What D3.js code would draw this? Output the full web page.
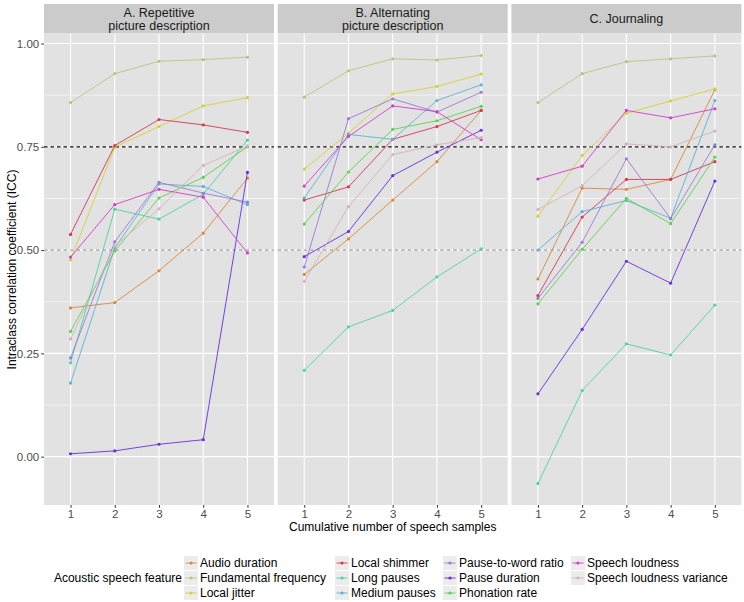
<!DOCTYPE html>
<html>
<head>
<meta charset="utf-8">
<script src="https://cdn.jsdelivr.net/npm/d3@7"></script>
<style>
  body { margin: 0; background: #fff; }
  svg { font-family: "Liberation Sans", Arial, sans-serif; }
</style>
</head>
<body>
<svg id="chart" width="744" height="602"></svg>
<script>
// cumulative number of speech samples
let samples = [1, 2, 3, 4, 5];

let panelTitles = [
    ["A. Repetitive", "picture description"],
    ["B. Alternating", "picture description"],
    ["C. Journaling"]
];

let features = [
    "Audio duration", "Fundamental frequency", "Local jitter",
    "Local shimmer", "Long pauses", "Medium pauses",
    "Pause-to-word ratio", "Pause duration", "Phonation rate",
    "Speech loudness", "Speech loudness variance"
];

let featureColors = [
    "#d8883e", "#b3c67e", "#d4d232",
    "#d23a55", "#48d5a3", "#5cb3d8",
    "#9a7bd8", "#6a2ee0", "#5ad44c",
    "#d63bc8", "#d4b2bc"
];

// ICC per feature (same order as features), one value per sample count
let iccRepetitive = [
    [0.360, 0.373, 0.450, 0.541, 0.674],
    [0.857, 0.927, 0.957, 0.961, 0.967],
    [0.476, 0.749, 0.799, 0.849, 0.869],
    [0.538, 0.753, 0.816, 0.803, 0.785],
    [0.227, 0.599, 0.575, 0.635, 0.766],
    [0.178, 0.505, 0.660, 0.654, 0.610],
    [0.239, 0.520, 0.664, 0.638, 0.616],
    [0.007, 0.014, 0.030, 0.041, 0.688],
    [0.303, 0.498, 0.626, 0.676, 0.750],
    [0.483, 0.610, 0.647, 0.628, 0.493],
    [0.285, 0.510, 0.600, 0.705, 0.752]
];

let iccAlternating = [
    [0.441, 0.527, 0.621, 0.714, 0.838],
    [0.870, 0.934, 0.963, 0.960, 0.971],
    [0.696, 0.783, 0.878, 0.896, 0.926],
    [0.621, 0.653, 0.768, 0.799, 0.838],
    [0.209, 0.314, 0.354, 0.435, 0.503],
    [0.626, 0.780, 0.768, 0.862, 0.900],
    [0.459, 0.818, 0.866, 0.834, 0.882],
    [0.484, 0.545, 0.680, 0.737, 0.790],
    [0.563, 0.689, 0.792, 0.813, 0.848],
    [0.655, 0.775, 0.849, 0.835, 0.767],
    [0.424, 0.605, 0.731, 0.755, 0.772]
];

let iccJournaling = [
    [0.430, 0.650, 0.647, 0.671, 0.888],
    [0.857, 0.927, 0.956, 0.963, 0.970],
    [0.582, 0.729, 0.831, 0.861, 0.890],
    [0.390, 0.580, 0.671, 0.671, 0.714],
    [-0.065, 0.160, 0.273, 0.246, 0.367],
    [0.500, 0.593, 0.620, 0.577, 0.862],
    [0.383, 0.519, 0.721, 0.576, 0.755],
    [0.152, 0.308, 0.473, 0.420, 0.667],
    [0.370, 0.502, 0.625, 0.564, 0.725],
    [0.672, 0.703, 0.838, 0.820, 0.842],
    [0.598, 0.656, 0.757, 0.750, 0.788]
];

let panelData = [iccRepetitive, iccAlternating, iccJournaling];
let yTicks = [0, 0.25, 0.5, 0.75, 1];
let yMinor = [0.125, 0.375, 0.625, 0.875];

let svg = d3.select("#chart");

let panelTop = 34, panelBottom = 505;
let panelWidth = 230, panelGap = 3.7, panelLeft = 44;
let stripTop = 4;

let y = d3.scaleLinear()
    .domain([-0.117, 1.023])
    .range([panelBottom, panelTop]);

let color = d3.scaleOrdinal().domain(features).range(featureColors);

panelData.forEach(function (rows, p) {
    let left = panelLeft + p * (panelWidth + panelGap);
    let x = d3.scalePoint()
        .domain(samples)
        .range([left, left + panelWidth])
        .padding(0.6);

    // strip
    svg.append("rect")
        .attr("x", left).attr("y", stripTop)
        .attr("width", panelWidth).attr("height", panelTop - stripTop - 0.5)
        .style("fill", "#cbcbcb");
    let lines = panelTitles[p];
    let stripMid = (stripTop + panelTop) / 2;
    lines.forEach(function (t, i) {
        svg.append("text")
            .attr("x", left + panelWidth / 2)
            .attr("y", stripMid + (i - (lines.length - 1) / 2) * 13.5)
            .attr("dy", "0.35em")
            .attr("text-anchor", "middle")
            .style("font-size", "12.5px")
            .style("fill", "#1a1a1a")
            .text(t);
    });

    // panel background
    svg.append("rect")
        .attr("x", left).attr("y", panelTop)
        .attr("width", panelWidth).attr("height", panelBottom - panelTop)
        .style("fill", "#e2e2e2");

    let g = svg.append("g");
    g.selectAll("line.minor").data(yMinor).enter().append("line")
        .attr("x1", left).attr("x2", left + panelWidth)
        .attr("y1", d => y(d)).attr("y2", d => y(d))
        .style("stroke", "#fff").style("stroke-width", 0.55);
    g.selectAll("line.major").data(yTicks).enter().append("line")
        .attr("x1", left).attr("x2", left + panelWidth)
        .attr("y1", d => y(d)).attr("y2", d => y(d))
        .style("stroke", "#fff").style("stroke-width", 1.1);
    g.selectAll("line.vmajor").data(samples).enter().append("line")
        .attr("x1", d => x(d)).attr("x2", d => x(d))
        .attr("y1", panelTop).attr("y2", panelBottom)
        .style("stroke", "#fff").style("stroke-width", 1.1);

    // reference lines
    g.append("line")
        .attr("x1", left).attr("x2", left + panelWidth)
        .attr("y1", y(0.5)).attr("y2", y(0.5))
        .style("stroke", "#7a7a7a").style("stroke-width", 0.9)
        .style("stroke-dasharray", "3.5,3");
    g.append("line")
        .attr("x1", left).attr("x2", left + panelWidth)
        .attr("y1", y(0.75)).attr("y2", y(0.75))
        .style("stroke", "#111").style("stroke-width", 1.3)
        .style("stroke-dasharray", "3.5,3");

    let line = d3.line()
        .x((d, i) => x(samples[i]))
        .y(d => y(d));

    rows.forEach(function (vals, f) {
        g.append("path")
            .datum(vals)
            .attr("d", line)
            .style("fill", "none")
            .style("stroke", color(features[f]))
            .style("stroke-width", 0.9);
        g.selectAll(null).data(vals).enter().append("circle")
            .attr("cx", (d, i) => x(samples[i]))
            .attr("cy", d => y(d))
            .attr("r", 1.6)
            .style("fill", color(features[f]));
    });

    // x axis
    let xAxis = d3.axisBottom(x).tickSize(2.75).tickPadding(2);
    let ax = svg.append("g")
        .attr("transform", "translate(0," + panelBottom + ")")
        .call(xAxis);
    ax.select(".domain").remove();
    ax.selectAll(".tick line").style("stroke", "#333");
    ax.selectAll(".tick text")
        .style("font-size", "11.5px").style("fill", "#4d4d4d")
        .style("font-family", "Liberation Sans, Arial, sans-serif");
});

// y axis on first panel
let yAxis = d3.axisLeft(y).tickValues(yTicks).tickFormat(d3.format(".2f"))
    .tickSize(2.75).tickPadding(2);
let ay = svg.append("g")
    .attr("transform", "translate(" + panelLeft + ",0)")
    .call(yAxis);
ay.select(".domain").remove();
ay.selectAll(".tick line").style("stroke", "#333");
ay.selectAll(".tick text")
    .style("font-size", "11.5px").style("fill", "#4d4d4d")
    .style("font-family", "Liberation Sans, Arial, sans-serif");

// axis titles
svg.append("text")
    .attr("transform", "translate(12," + ((panelTop + panelBottom) / 2) + ") rotate(-90)")
    .attr("text-anchor", "middle")
    .attr("dy", "0.35em")
    .style("font-size", "12px")
    .text("Intraclass correlation coefficient (ICC)");

svg.append("text")
    .attr("x", (panelLeft + panelLeft + 3 * panelWidth + 2 * panelGap) / 2)
    .attr("y", 527)
    .attr("dy", "0.35em")
    .attr("text-anchor", "middle")
    .style("font-size", "12px")
    .text("Cumulative number of speech samples");

// legend
let legendCols = [191, 342, 450, 578];
let legendRows = [563, 578, 593];
svg.append("text")
    .attr("x", 182).attr("y", legendRows[1])
    .attr("dy", "0.35em")
    .attr("text-anchor", "end")
    .style("font-size", "12px")
    .text("Acoustic speech feature");

features.forEach(function (name, i) {
    let cx = legendCols[Math.floor(i / 3)];
    let cy = legendRows[i % 3];
    let k = svg.append("g");
    k.append("rect")
        .attr("x", cx - 7).attr("y", cy - 7)
        .attr("width", 14).attr("height", 14)
        .style("fill", "#ececec");
    k.append("line")
        .attr("x1", cx - 5.5).attr("x2", cx + 5.5)
        .attr("y1", cy).attr("y2", cy)
        .style("stroke", color(name)).style("stroke-width", 0.9);
    k.append("circle")
        .attr("cx", cx).attr("cy", cy).attr("r", 1.6)
        .style("fill", color(name));
    svg.append("text")
        .attr("x", cx + 9).attr("y", cy)
        .attr("dy", "0.35em")
        .style("font-size", "12px")
        .text(name);
});
</script>
</body>
</html>
